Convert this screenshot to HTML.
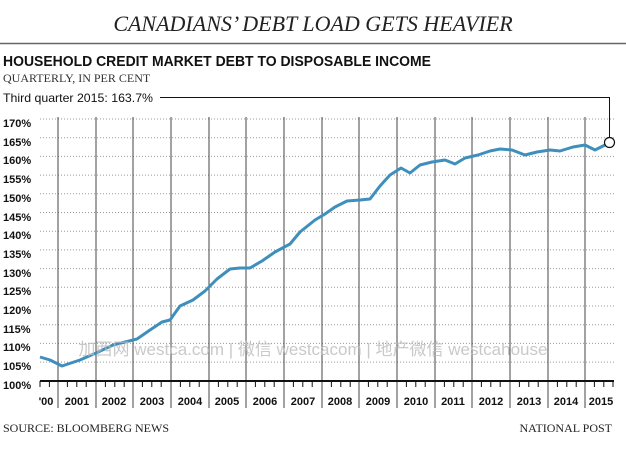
<!DOCTYPE html>
<html><head><meta charset="utf-8"><style>
html,body{margin:0;padding:0;background:#fff}
</style></head><body>
<svg width="626" height="447" xmlns="http://www.w3.org/2000/svg" font-family="Liberation Sans, sans-serif">
<rect width="626" height="447" fill="#fff"/>
<text x="313" y="31" text-anchor="middle" font-family="Liberation Serif, serif" font-style="italic" font-size="22" fill="#222">CANADIANS’ DEBT LOAD GETS HEAVIER</text>
<line x1="0" y1="43.5" x2="626" y2="43.5" stroke="#666" stroke-width="1.5"/>
<text x="3" y="66" font-weight="bold" font-size="14.5" fill="#111" textLength="428" lengthAdjust="spacingAndGlyphs">HOUSEHOLD CREDIT MARKET DEBT TO DISPOSABLE INCOME</text>
<text x="3" y="82" font-family="Liberation Serif, serif" font-size="12" fill="#333">QUARTERLY, IN PER CENT</text>
<text x="3" y="102" font-size="12" fill="#111" textLength="150" lengthAdjust="spacingAndGlyphs">Third quarter 2015: 163.7%</text>
<polyline points="160,97.5 609.5,97.5 609.5,137" fill="none" stroke="#111" stroke-width="1"/>
<g stroke="#999" stroke-width="1" stroke-dasharray="1,2">
<line x1="40" x2="614" y1="119" y2="119"/><line x1="40" x2="614" y1="137.7" y2="137.7"/><line x1="40" x2="614" y1="156.4" y2="156.4"/><line x1="40" x2="614" y1="175.1" y2="175.1"/><line x1="40" x2="614" y1="193.8" y2="193.8"/><line x1="40" x2="614" y1="212.5" y2="212.5"/><line x1="40" x2="614" y1="231.2" y2="231.2"/><line x1="40" x2="614" y1="249.9" y2="249.9"/><line x1="40" x2="614" y1="268.6" y2="268.6"/><line x1="40" x2="614" y1="287.3" y2="287.3"/><line x1="40" x2="614" y1="306" y2="306"/><line x1="40" x2="614" y1="324.7" y2="324.7"/><line x1="40" x2="614" y1="343.4" y2="343.4"/><line x1="40" x2="614" y1="362.1" y2="362.1"/>
</g>
<g stroke="#444" stroke-width="1">
<line x1="58" x2="58" y1="117" y2="408"/><line x1="96" x2="96" y1="117" y2="408"/><line x1="133" x2="133" y1="117" y2="408"/><line x1="171" x2="171" y1="117" y2="408"/><line x1="209" x2="209" y1="117" y2="408"/><line x1="246" x2="246" y1="117" y2="408"/><line x1="284" x2="284" y1="117" y2="408"/><line x1="322" x2="322" y1="117" y2="408"/><line x1="359" x2="359" y1="117" y2="408"/><line x1="397" x2="397" y1="117" y2="408"/><line x1="435" x2="435" y1="117" y2="408"/><line x1="472" x2="472" y1="117" y2="408"/><line x1="510" x2="510" y1="117" y2="408"/><line x1="548" x2="548" y1="117" y2="408"/><line x1="585" x2="585" y1="117" y2="408"/>
</g>
<line x1="40" x2="614" y1="381" y2="381" stroke="#111" stroke-width="2"/>
<g stroke="#111" stroke-width="1" id="ticks"></g>
<g font-size="11" font-weight="bold" fill="#111" text-anchor="start">
<text x="3" y="127">170%</text><text x="3" y="146">165%</text><text x="3" y="164">160%</text><text x="3" y="183">155%</text><text x="3" y="202">150%</text><text x="3" y="221">145%</text><text x="3" y="239">140%</text><text x="3" y="258">135%</text><text x="3" y="277">130%</text><text x="3" y="295">125%</text><text x="3" y="314">120%</text><text x="3" y="333">115%</text><text x="3" y="351">110%</text><text x="3" y="370">105%</text><text x="3" y="389">100%</text>
</g>
<g font-size="11" font-weight="bold" fill="#111" text-anchor="middle">
<text x="46" y="405">'00</text><text x="77" y="405">2001</text><text x="114" y="405">2002</text><text x="152" y="405">2003</text><text x="190" y="405">2004</text><text x="227" y="405">2005</text><text x="265" y="405">2006</text><text x="303" y="405">2007</text><text x="340" y="405">2008</text><text x="378" y="405">2009</text><text x="416" y="405">2010</text><text x="453" y="405">2011</text><text x="491" y="405">2012</text><text x="529" y="405">2013</text><text x="566" y="405">2014</text><text x="601" y="405">2015</text>
</g>
<g stroke="#111" stroke-width="1">
<path d="M40,381v6M49.4,381v6M67.4,381v6M76.8,381v6M86.2,381v6M105.4,381v6M114.8,381v6M124.2,381v6M142.4,381v6M151.8,381v6M161.2,381v6M180.4,381v6M189.8,381v6M199.2,381v6M218.4,381v6M227.8,381v6M237.2,381v6M255.4,381v6M264.8,381v6M274.2,381v6M293.4,381v6M302.8,381v6M312.2,381v6M331.4,381v6M340.8,381v6M350.2,381v6M368.4,381v6M377.8,381v6M387.2,381v6M406.4,381v6M415.8,381v6M425.2,381v6M444.4,381v6M453.8,381v6M463.2,381v6M481.4,381v6M490.8,381v6M500.2,381v6M519.4,381v6M528.8,381v6M538.2,381v6M557.4,381v6M566.8,381v6M576.2,381v6M594.4,381v6M603.8,381v6M613,381v6"/>
</g>
<polyline fill="none" stroke="#3f8fbd" stroke-width="3" stroke-linejoin="round" points="40,357 50,360 62,366 80,360 96,353 113,345 125,342 137,339 150,330 162,322 170,320 180,306 193,300 205,291 217,279 230,269 240,268 250,268 262,261 275,252 290,244 300,232 315,220 325,214 335,207 347,201 360,200 370,199 380,186 390,175 401,168 410,173 420,165 432,162 445,160 455,164 465,158 478,155 490,151 500,149 512,150 525,155 537,152 550,150 560,151 573,147 585,145 595,150 609,143"/>
<circle cx="609.5" cy="142.5" r="5" fill="#fff" stroke="#111" stroke-width="1.2"/>
<text x="313" y="355" text-anchor="middle" font-family="Liberation Sans, 'Noto Sans CJK SC', sans-serif" font-size="17" fill="#bbb" fill-opacity="0.8">加西网 westca.com | 微信 westcacom | 地产微信 westcahouse</text>
<text x="3" y="432" font-family="Liberation Serif, serif" font-size="12" fill="#222">SOURCE: BLOOMBERG NEWS</text>
<text x="612" y="432" text-anchor="end" font-family="Liberation Serif, serif" font-size="12" fill="#222">NATIONAL POST</text>
</svg>
</body></html>
